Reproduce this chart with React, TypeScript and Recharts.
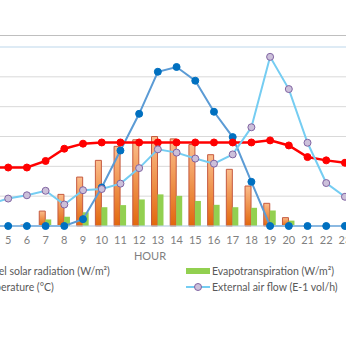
import React from "react";
import {
  Bar,
  CartesianGrid,
  ComposedChart,
  Line,
  ReferenceLine,
  XAxis,
  YAxis,
} from "recharts";

const hours = [1, 2, 3, 4, 5, 6, 7, 8, 9, 10, 11, 12, 13, 14, 15, 16, 17, 18, 19, 20, 21, 22, 23, 24];
const panelSolar = [0, 0, 0, 0, 0, 3, 50, 106, 164, 220, 267, 289, 300, 292, 273, 239, 190, 134, 76, 28, 0, 0, 0, 0];
const evapotranspiration = [0, 0, 0, 0, 0, 0, 22, 31, 46, 63, 70, 89, 106, 101, 84, 71, 63, 61, 52, 18, 3, 1, 0, 0];
const temperature = [196, 196, 196, 196, 196, 196, 218, 259, 276, 280, 280, 280, 280, 280, 280, 280, 280, 280, 287, 270, 231, 220, 212, 205];
const airFlow = [80, 78, 75, 73, 92, 103, 118, 72, 120, 124, 142, 194, 257, 246, 226, 209, 240, 331, 567, 459, 279, 144, 98, 85];
const globalSolar = [0, 0, 0, 0, 0, 0, 0, 0, 23, 129, 253, 376, 517, 533, 487, 383, 298, 148, 0, 0, 0, 0, 0, 0];
const yTicks = [0, 100, 200, 300, 400, 500, 600];

const data = hours.map((h, i) => ({
  hour: h,
  panelSolar: panelSolar[i],
  evapotranspiration: evapotranspiration[i],
  temperature: temperature[i],
  airFlow: airFlow[i],
  globalSolar: globalSolar[i],
}));

const FONT = "Lato, 'Open Sans', sans-serif";
// the reference is a crop of a wider chart, so the chart sits partly off the left edge
const SHIFT = -120;

function LegendItem({ x, y, kind, color, marker, label }: any) {
  return (
    <div style={{ position: "absolute", left: x, top: y - 8, height: 16, display: "flex", alignItems: "center", whiteSpace: "nowrap" }}>
      <svg width={25} height={16} style={{ marginRight: 1 }}>
        {kind === "bar" ? (
          <rect x={0} y={5} width={24} height={6} fill={color} />
        ) : (
          <>
            <line x1={0} y1={8} x2={24} y2={8} stroke={color} strokeWidth={2} />
            <circle cx={12} cy={8} r={3.5} fill={marker.fill} stroke={marker.stroke} strokeWidth={1} />
          </>
        )}
      </svg>
      <span style={{ fontFamily: FONT, fontSize: 10.5, color: "#595959" }}>{label}</span>
    </div>
  );
}

export default function App() {
  return (
    <div style={{ position: "fixed", left: 0, top: 0, width: 346, height: 346, overflow: "hidden", background: "#fff" }}>
      <div style={{ position: "absolute", left: 0, top: 35, width: 346, height: 1, background: "#bfbfbf" }} />
      <div style={{ position: "absolute", left: SHIFT, top: 0, width: 600, height: 346 }}>
        <ComposedChart
          width={600}
          height={346}
          data={data}
          margin={{ top: 47, right: 107, bottom: 90, left: 44 }}
          barGap={0}
        >
          <defs>
            <linearGradient id="orangeGrad" x1="0" y1="0" x2="0" y2="1">
              <stop offset="0%" stopColor="#fbbd8c" />
              <stop offset="100%" stopColor="#e2670c" />
            </linearGradient>
          </defs>
          <CartesianGrid horizontal vertical={false} stroke="#d9d9d9" />
          <XAxis
            dataKey="hour"
            interval={0}
            tickLine={false}
            axisLine={{ stroke: "#bdd7ee" }}
            tick={{ fill: "#808080", fontSize: 11, fontFamily: FONT }}
            tickMargin={4}
          />
          <YAxis hide domain={[0, 600]} ticks={yTicks} />
          <ReferenceLine y={600} stroke="#deebf5" strokeWidth={2} />
          <Bar dataKey="panelSolar" barSize={6} fill="url(#orangeGrad)" stroke="#c55a3f" strokeWidth={1} isAnimationActive={false} />
          <Bar dataKey="evapotranspiration" barSize={6} fill="#92d050" isAnimationActive={false} />
          <Line
            type="linear"
            dataKey="globalSolar"
            stroke="#5b9bd5"
            strokeWidth={2}
            dot={{ r: 3.5, fill: "#0070c0", stroke: "#0070c0", strokeWidth: 1 }}
            isAnimationActive={false}
          />
          <Line
            type="linear"
            dataKey="temperature"
            stroke="#ff0000"
            strokeWidth={2.5}
            dot={{ r: 3.5, fill: "#ff0000", stroke: "#ff0000", strokeWidth: 1 }}
            isAnimationActive={false}
          />
          <Line
            type="linear"
            dataKey="airFlow"
            stroke="#75cdf2"
            strokeWidth={2}
            dot={{ r: 3.5, fill: "#ccc0da", stroke: "#8064a2", strokeWidth: 1 }}
            isAnimationActive={false}
          />
        </ComposedChart>
        <div style={{ position: "absolute", left: 150 - SHIFT - 30, top: 249, width: 60, textAlign: "center", fontFamily: FONT, fontSize: 11, color: "#808080" }}>
          HOUR
        </div>
        <LegendItem x={-160} y={271} kind="line" color="#5b9bd5" marker={{ fill: "#0070c0", stroke: "#0070c0" }} label="Global solar radiation (W/m²)" />
        <LegendItem x={-SHIFT - 50} y={271} kind="bar" color="#e8843e" label="Tunnel solar radiation (W/m²)" />
        <LegendItem x={-SHIFT - 50} y={287} kind="line" color="#ff0000" marker={{ fill: "#ff0000", stroke: "#ff0000" }} label="Temperature (°C)" />
        <LegendItem x={-SHIFT + 186} y={271} kind="bar" color="#92d050" label="Evapotranspiration (W/m²)" />
        <LegendItem x={-SHIFT + 186} y={287} kind="line" color="#75cdf2" marker={{ fill: "#ccc0da", stroke: "#8064a2" }} label="External air flow (E-1 vol/h)" />
      </div>
    </div>
  );
}
